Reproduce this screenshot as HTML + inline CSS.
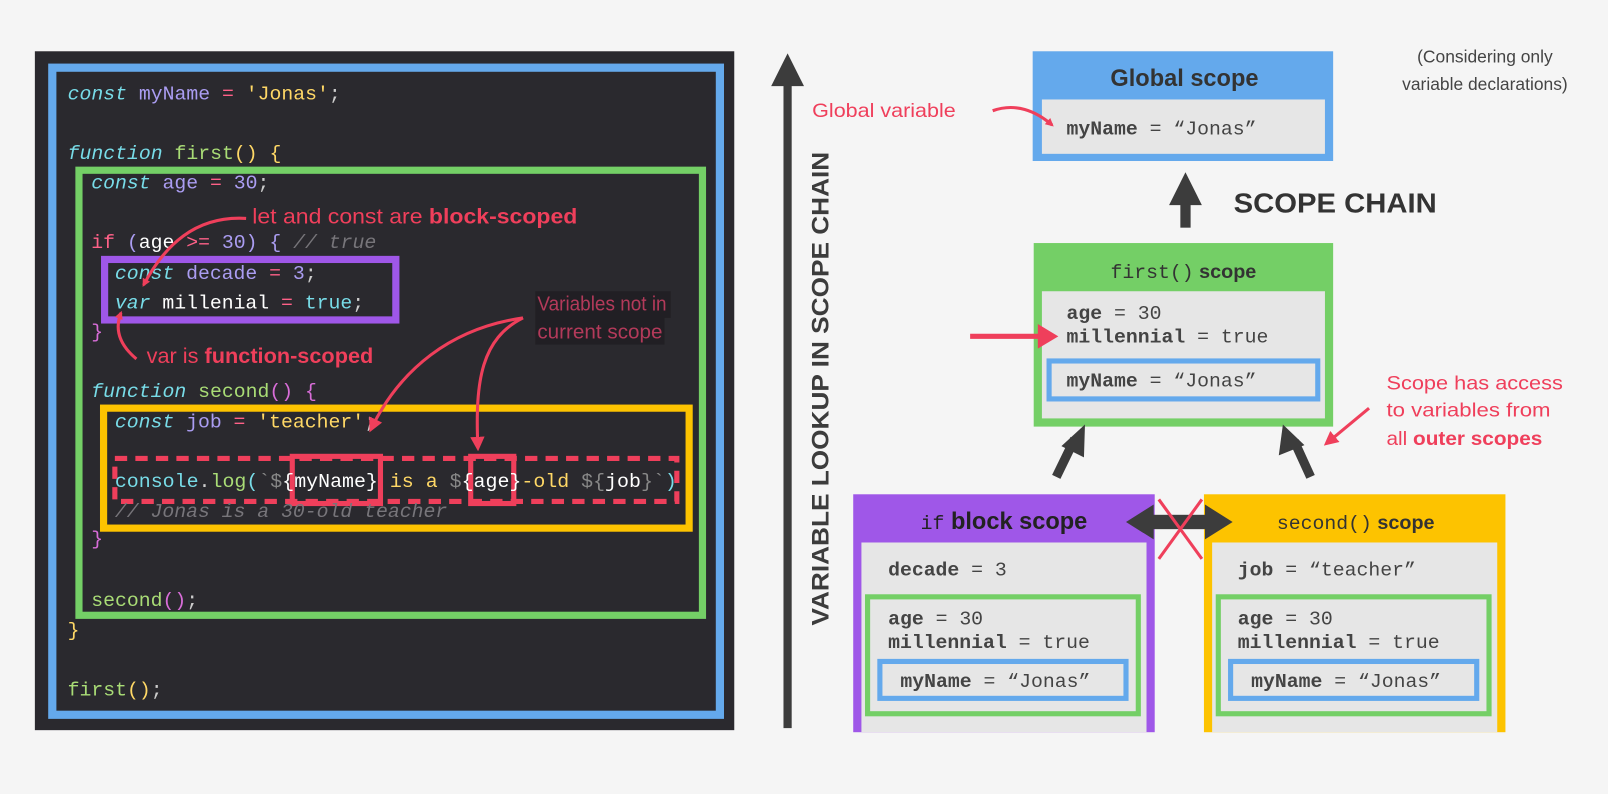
<!DOCTYPE html>
<html><head><meta charset="utf-8"><style>
html,body{margin:0;padding:0;background:#f5f5f5;overflow:hidden}
svg{display:block}
.m{font-family:"Liberation Mono","DejaVu Sans Mono",monospace;font-size:19.3px;}
.s{font-family:"Liberation Sans",sans-serif;}
</style></head><body>
<svg width="1608" height="794" viewBox="0 0 1608 794" xmlns="http://www.w3.org/2000/svg">
<defs>
<marker id="ra" markerWidth="8" markerHeight="8" refX="6" refY="4" orient="auto" markerUnits="userSpaceOnUse"><path d="M0,0 L8,4 L0,8 z" fill="#ef3f5b"/></marker>
<marker id="rb" markerWidth="14" markerHeight="14" refX="10" refY="7" orient="auto" markerUnits="userSpaceOnUse"><path d="M0,0 L14,7 L0,14 z" fill="#ef3f5b"/></marker>
</defs>
<rect width="1608" height="794" fill="#f5f5f5"/>
<g transform="scale(1.0255)">
<rect x="34" y="50" width="682" height="662" fill="#2a292e"/>
<rect x="51" y="66" width="651" height="631" fill="none" stroke="#64a9ec" stroke-width="8"/>
<rect x="77" y="166" width="608" height="434" fill="none" stroke="#74cf66" stroke-width="7"/>
<rect x="102" y="253" width="284" height="59" fill="none" stroke="#9f57e8" stroke-width="7"/>
<rect x="101" y="398" width="571" height="117" fill="none" stroke="#fdc300" stroke-width="7"/>
<rect x="112" y="447" width="548" height="42" fill="none" stroke="#ef3f5b" stroke-width="5" stroke-dasharray="12,8"/>
<rect x="285" y="445" width="86" height="46" fill="none" stroke="#ef3f5b" stroke-width="5"/>
<rect x="459" y="445" width="42" height="46" fill="none" stroke="#ef3f5b" stroke-width="5"/>
<g class="m">
<text x="66" y="97"><tspan fill="#78dce8" font-style="italic">const</tspan><tspan fill="#ab9df2"> myName</tspan><tspan fill="#ff6188"> =</tspan><tspan fill="#ffd866"> 'Jonas'</tspan><tspan fill="#ccc">;</tspan></text>
<text x="66" y="155"><tspan fill="#78dce8" font-style="italic">function</tspan><tspan fill="#a9dc76"> first</tspan><tspan fill="#ffd866">() {</tspan></text>
<text x="89" y="184"><tspan fill="#78dce8" font-style="italic">const</tspan><tspan fill="#ab9df2"> age</tspan><tspan fill="#ff6188"> =</tspan><tspan fill="#ab9df2"> 30</tspan><tspan fill="#ccc">;</tspan></text>
<text x="89" y="242"><tspan fill="#ff6188">if</tspan><tspan fill="#ab9df2"> (</tspan><tspan fill="#fff">age</tspan><tspan fill="#ff6188"> &gt;=</tspan><tspan fill="#ab9df2"> 30) </tspan><tspan fill="#ab9df2">{</tspan><tspan fill="#77757a" font-style="italic">  // true</tspan></text>
<text x="112" y="272"><tspan fill="#78dce8" font-style="italic">const</tspan><tspan fill="#ab9df2"> decade</tspan><tspan fill="#ff6188"> =</tspan><tspan fill="#ab9df2"> 3</tspan><tspan fill="#ccc">;</tspan></text>
<text x="112" y="301"><tspan fill="#78dce8" font-style="italic">var</tspan><tspan fill="#fff"> millenial</tspan><tspan fill="#ff6188"> =</tspan><tspan fill="#78dce8"> true</tspan><tspan fill="#ccc">;</tspan></text>
<text x="89" y="329" fill="#d86dd8">}</text>
<text x="89" y="387"><tspan fill="#78dce8" font-style="italic">function</tspan><tspan fill="#a9dc76"> second</tspan><tspan fill="#d86dd8">() {</tspan></text>
<text x="112" y="417"><tspan fill="#78dce8" font-style="italic">const</tspan><tspan fill="#ab9df2"> job</tspan><tspan fill="#ff6188"> =</tspan><tspan fill="#ffd866"> 'teacher'</tspan><tspan fill="#ccc">;</tspan></text>
<text x="112" y="475" textLength="548" lengthAdjust="spacingAndGlyphs"><tspan fill="#78dce8">console</tspan><tspan fill="#ccc">.</tspan><tspan fill="#a9dc76">log</tspan><tspan fill="#78dce8">(</tspan><tspan fill="#888">`$</tspan><tspan fill="#fff">{myName}</tspan><tspan fill="#ffd866"> is a </tspan><tspan fill="#888">$</tspan><tspan fill="#fff">{age}</tspan><tspan fill="#ffd866">-old </tspan><tspan fill="#888">${</tspan><tspan fill="#fff">job</tspan><tspan fill="#888">}`</tspan><tspan fill="#78dce8">)</tspan></text>
<text x="112" y="504" fill="#77757a" font-style="italic">// Jonas is a 30-old teacher</text>
<text x="89" y="531" fill="#d86dd8">}</text>
<text x="89" y="591"><tspan fill="#a9dc76">second</tspan><tspan fill="#d86dd8">()</tspan><tspan fill="#ccc">;</tspan></text>
<text x="66" y="620" fill="#ffd866">}</text>
<text x="66" y="678"><tspan fill="#a9dc76">first</tspan><tspan fill="#ffd866">()</tspan><tspan fill="#ccc">;</tspan></text>
</g>
<g class="s" fill="#ef3f5b" font-size="21">
<text x="246" y="218" textLength="317" lengthAdjust="spacingAndGlyphs">let and const are <tspan font-weight="bold">block-scoped</tspan></text>
<text x="143" y="354" textLength="221" lengthAdjust="spacingAndGlyphs">var is <tspan font-weight="bold">function-scoped</tspan></text>
</g>
<rect x="522" y="284" width="132" height="26" fill="#211f24"/>
<rect x="522" y="310" width="126" height="26" fill="#211f24"/>
<g class="s" fill="#b33a5a" font-size="20"><text x="524" y="303" textLength="126" lengthAdjust="spacingAndGlyphs">Variables not in</text><text x="524" y="330" textLength="122" lengthAdjust="spacingAndGlyphs">current scope</text></g>
<g fill="none" stroke="#ef3f5b" stroke-width="3">
<path d="M240,213 C190,210 160,240 140,278" marker-end="url(#ra)"/>
<path d="M133,350 C115,335 112,320 118,305" marker-end="url(#ra)"/>
<path d="M510,310 C440,320 390,360 362,418" marker-end="url(#rb)"/>
<path d="M510,310 C470,330 463,370 466,436" marker-end="url(#rb)"/>
</g>
<rect x="764" y="80" width="8" height="630" fill="#3c3c3c"/>
<path d="M752,84 L768,52 L784,84 z" fill="#3c3c3c"/>
<text class="s" transform="translate(808,610) rotate(-90)" font-size="23" font-weight="bold" fill="#3c3c3c" textLength="462" lengthAdjust="spacingAndGlyphs">VARIABLE  LOOKUP  IN  SCOPE  CHAIN</text>
<text class="s" x="1448" y="61" font-size="17" fill="#444" text-anchor="middle">(Considering only</text>
<text class="s" x="1448" y="88" font-size="17" fill="#444" text-anchor="middle">variable declarations)</text>
<rect x="1007" y="50" width="293" height="107" fill="#64a9ec"/>
<rect x="1016" y="97" width="276" height="53" fill="#e6e6e6"/>
<text class="s" x="1155" y="84" font-size="23" font-weight="bold" fill="#333" text-anchor="middle">Global scope</text>
<text class="m" x="1040" y="131" fill="#444"><tspan font-weight="bold">myName</tspan> = “Jonas”</text>
<text class="s" x="792" y="114" font-size="19" fill="#ef3f5b" textLength="140" lengthAdjust="spacingAndGlyphs">Global variable</text>
<path d="M968,108 C990,100 1010,108 1026,122" fill="none" stroke="#ef3f5b" stroke-width="3" marker-end="url(#ra)"/>
<rect x="1151" y="196" width="10" height="26" fill="#3c3c3c"/>
<path d="M1140,200 L1156,168 L1172,200 z" fill="#3c3c3c"/>
<text class="s" x="1203" y="207" font-size="27" font-weight="bold" fill="#333" textLength="198" lengthAdjust="spacingAndGlyphs">SCOPE CHAIN</text>
<rect x="1008" y="237" width="292" height="179" fill="#74cf66"/>
<rect x="1016" y="284" width="276" height="124" fill="#e6e6e6"/>
<text class="m" x="1154" y="271" font-size="22" fill="#333" text-anchor="middle">first()<tspan class="s" font-weight="bold"> scope</tspan></text>
<text class="m" x="1040" y="311" fill="#444"><tspan font-weight="bold">age</tspan> = 30</text>
<text class="m" x="1040" y="334" fill="#444"><tspan font-weight="bold">millennial</tspan> = true</text>
<rect x="1023" y="352" width="262" height="37" fill="#e6e6e6" stroke="#64a9ec" stroke-width="5"/>
<text class="m" x="1040" y="377" fill="#444"><tspan font-weight="bold">myName</tspan> = “Jonas”</text>
<path d="M946,328 L1016,328" stroke="#ef3f5b" stroke-width="5"/>
<path d="M1012,316 L1032,328 L1012,340 z" fill="#ef3f5b"/>
<text class="s" x="1352" y="380" font-size="19" fill="#ef3f5b" textLength="172" lengthAdjust="spacingAndGlyphs">Scope has access</text>
<text class="s" x="1352" y="406" font-size="19" fill="#ef3f5b" textLength="160" lengthAdjust="spacingAndGlyphs">to variables from</text>
<text class="s" x="1352" y="434" font-size="19" fill="#ef3f5b" textLength="152" lengthAdjust="spacingAndGlyphs">all <tspan font-weight="bold">outer scopes</tspan></text>
<path d="M1335,398 L1294,432" stroke="#ef3f5b" stroke-width="3" marker-end="url(#rb)"/>
<path d="M1030,465 L1048,428" stroke="#3c3c3c" stroke-width="9"/>
<path d="M1035,435 L1058,414 L1057,446 z" fill="#3c3c3c"/>
<path d="M1278,465 L1262,430" stroke="#3c3c3c" stroke-width="9"/>
<path d="M1247,444 L1251,414 L1272,434 z" fill="#3c3c3c"/>
<rect x="832" y="482" width="294" height="232" fill="#9f57e8"/>
<rect x="840" y="529" width="278" height="185" fill="#e6e6e6"/>
<text class="s" x="979" y="516" font-size="23" fill="#222" text-anchor="middle"><tspan class="m" font-size="22">if</tspan><tspan font-weight="bold"> block scope</tspan></text>
<text class="m" x="866" y="561" fill="#444"><tspan font-weight="bold">decade</tspan> = 3</text>
<rect x="846" y="582" width="264" height="114" fill="#e6e6e6" stroke="#74cf66" stroke-width="5"/>
<text class="m" x="866" y="609" fill="#444"><tspan font-weight="bold">age</tspan> = 30</text>
<text class="m" x="866" y="632" fill="#444"><tspan font-weight="bold">millennial</tspan> = true</text>
<rect x="858" y="645" width="240" height="36" fill="#e6e6e6" stroke="#64a9ec" stroke-width="5"/>
<text class="m" x="878" y="670" fill="#444"><tspan font-weight="bold">myName</tspan> = “Jonas”</text>
<rect x="1174" y="482" width="294" height="232" fill="#fdc300"/>
<rect x="1182" y="529" width="278" height="185" fill="#e6e6e6"/>
<text class="m" x="1322" y="516" font-size="22" fill="#333" text-anchor="middle">second()<tspan class="s" font-weight="bold"> scope</tspan></text>
<text class="m" x="1207" y="561" fill="#444"><tspan font-weight="bold">job</tspan> = “teacher”</text>
<rect x="1188" y="582" width="264" height="114" fill="#e6e6e6" stroke="#74cf66" stroke-width="5"/>
<text class="m" x="1207" y="609" fill="#444"><tspan font-weight="bold">age</tspan> = 30</text>
<text class="m" x="1207" y="632" fill="#444"><tspan font-weight="bold">millennial</tspan> = true</text>
<rect x="1200" y="645" width="240" height="36" fill="#e6e6e6" stroke="#64a9ec" stroke-width="5"/>
<text class="m" x="1220" y="670" fill="#444"><tspan font-weight="bold">myName</tspan> = “Jonas”</text>
<rect x="1110" y="502" width="80" height="14" fill="#3c3c3c"/>
<path d="M1098,509 L1125,492 L1125,526 z" fill="#3c3c3c"/>
<path d="M1202,509 L1175,492 L1175,526 z" fill="#3c3c3c"/>
<path d="M1130,487 L1172,545 M1172,487 L1130,545" stroke="#ef3f5b" stroke-width="3"/>
</g>
</svg>
</body></html>
